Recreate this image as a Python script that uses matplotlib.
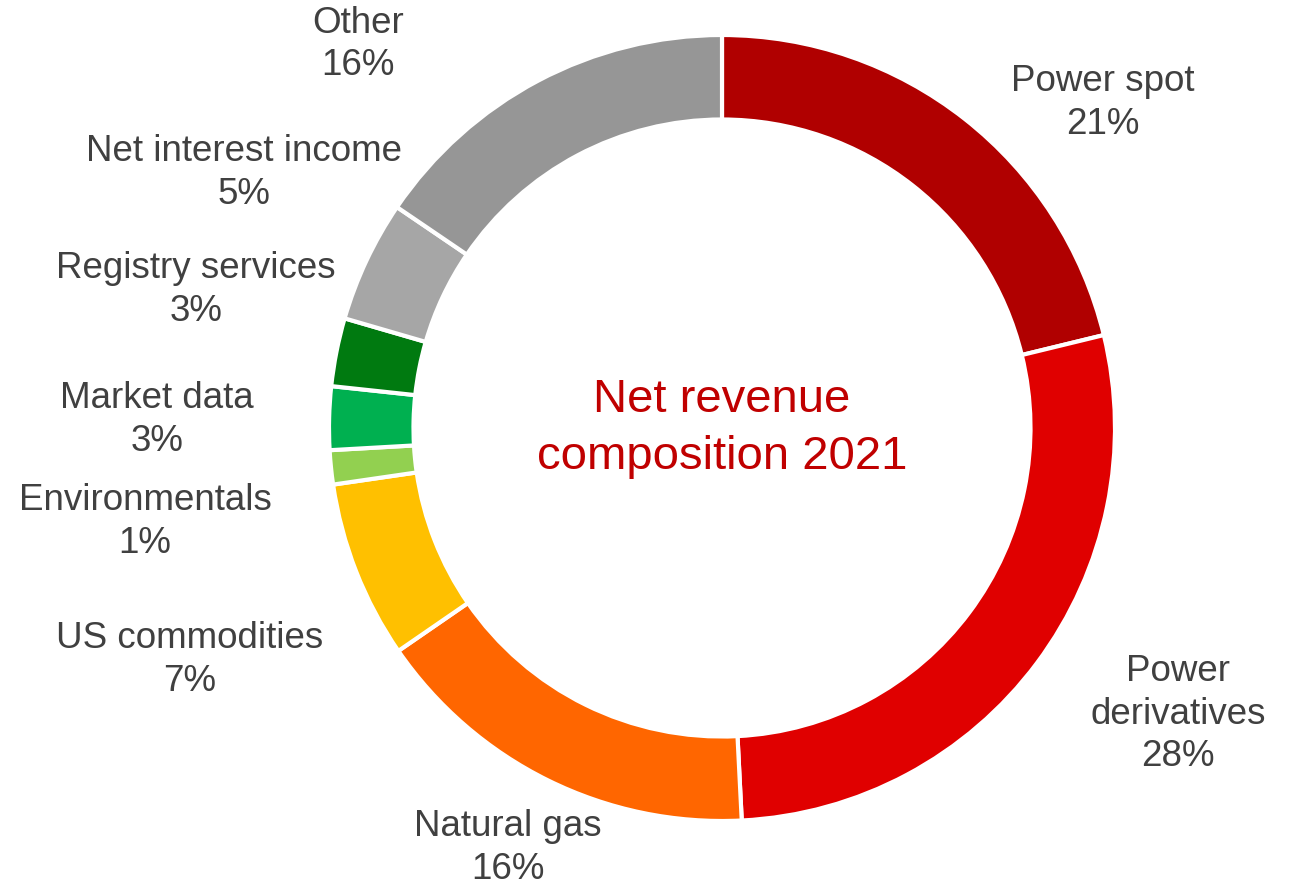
import matplotlib.pyplot as plt

plt.rcParams['font.family'] = ['Liberation Sans', 'DejaVu Sans']

categories = ["Power spot", "Power\nderivatives", "Natural gas", "US commodities",
              "Environmentals", "Market data", "Registry services",
              "Net interest income", "Other"]
shares = [21.2, 28.0, 16.2, 7.3, 1.4, 2.6, 2.8, 5.0, 15.5]
colors = ["#B00000", "#E00000", "#FF6600", "#FFC000", "#92D050",
          "#00B050", "#007A10", "#A6A6A6", "#969696"]

# label centres, in units of the ring's outer radius
label_pos = [(0.969, 0.827), (1.160, -0.728), (-0.545, -1.069), (-1.354, -0.590),
             (-1.468, -0.239), (-1.438, 0.020), (-1.338, 0.351), (-1.216, 0.649),
             (-0.926, 0.975)]

W, H = 1294, 893
cx, cy, R = 722, 428, 393

fig = plt.figure(figsize=(W / 100, H / 100), dpi=100)
ax = fig.add_axes([0, 0, 1, 1])

ax.pie(shares, colors=colors, startangle=90, counterclock=False, radius=1,
       wedgeprops=dict(width=0.215, edgecolor='white', linewidth=3))

for name, val, (x, y) in zip(categories, shares, label_pos):
    ax.text(x, y, f"{name}\n{round(val):.0f}%", ha='center', va='center',
            multialignment='center', fontsize=26.5, color='#404040',
            linespacing=1.27)

ax.text(0, -0.002, "Net revenue\ncomposition 2021", ha='center', va='center',
        fontsize=34, color='#C00000', linespacing=1.38)

ax.set_xlim(-cx / R, (W - cx) / R)
ax.set_ylim((cy - H) / R, cy / R)
ax.set_aspect('auto')
ax.axis('off')

fig.savefig('out.png', dpi=100, facecolor='white')
